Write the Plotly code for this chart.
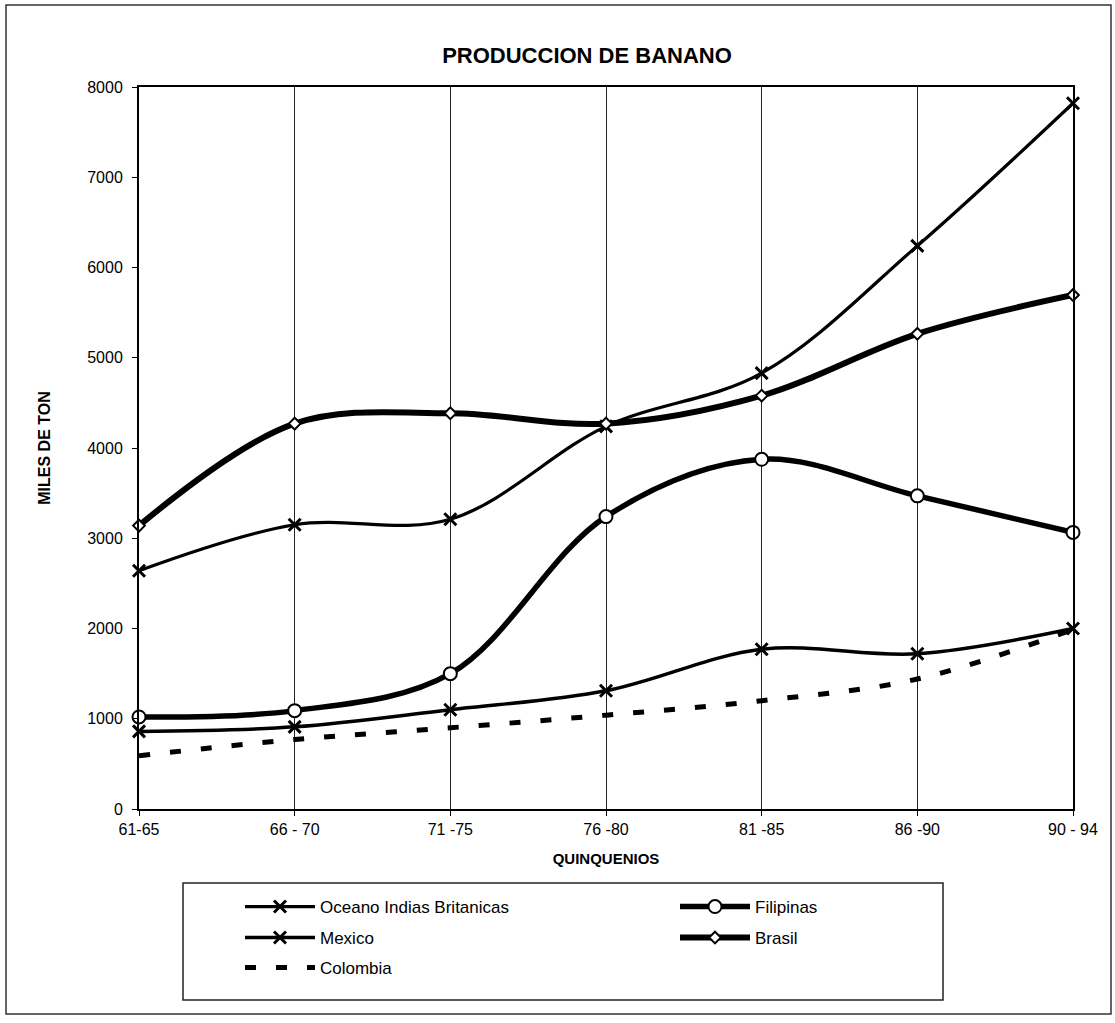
import plotly.graph_objects as go

# ---------------- data ----------------
categories = ["61-65", "66 - 70", "71 -75", "76 -80", "81 -85", "86 -90", "90 - 94"]
oceano = [2640, 3150, 3210, 4240, 4830, 6240, 7820]
filipinas = [1020, 1090, 1500, 3240, 3875, 3470, 3065]
mexico = [860, 910, 1100, 1310, 1770, 1720, 2000]
brasil = [3140, 4270, 4385, 4270, 4580, 5265, 5695]
colombia = [590, 770, 900, 1040, 1200, 1440, 1990]
y_ticks = [0, 1000, 2000, 3000, 4000, 5000, 6000, 7000, 8000]

# ---------------- layout geometry (screen pixels) ----------------
W, H = 1115, 1023
PL, PR, PT, PB = 139, 1073, 87, 809  # plot area box


def fx(p):
    return (p - PL) / (PR - PL)


def fy(p):
    return (PB - p) / (PB - PT)


FONT = "Liberation Sans, Arial, sans-serif"

fig = go.Figure()

fig.add_trace(go.Scatter(
    x=categories, y=oceano, name="Oceano Indias Britanicas", mode="lines+markers",
    line=dict(color="black", width=3.2, shape="spline", smoothing=1),
    marker=dict(symbol="x-thin", size=12, color="black", line=dict(width=3, color="black")),
    cliponaxis=False, legend="legend"))
fig.add_trace(go.Scatter(
    x=categories, y=filipinas, name="Filipinas", mode="lines+markers",
    line=dict(color="black", width=5.5, shape="spline", smoothing=1),
    marker=dict(symbol="circle", size=13, color="white", line=dict(width=2, color="black")),
    cliponaxis=False, legend="legend"))
fig.add_trace(go.Scatter(
    x=categories, y=mexico, name="Mexico", mode="lines+markers",
    line=dict(color="black", width=3.5, shape="spline", smoothing=1),
    marker=dict(symbol="x-thin", size=12, color="black", line=dict(width=3, color="black")),
    cliponaxis=False, legend="legend2"))
fig.add_trace(go.Scatter(
    x=categories, y=brasil, name="Brasil", mode="lines+markers",
    line=dict(color="black", width=6, shape="spline", smoothing=1),
    marker=dict(symbol="diamond", size=9, color="white", line=dict(width=2, color="black")),
    cliponaxis=False, legend="legend2"))
fig.add_trace(go.Scatter(
    x=categories, y=colombia, name="Colombia", mode="lines",
    line=dict(color="black", width=5, dash="11px,20px", shape="spline", smoothing=1),
    cliponaxis=False, legend="legend3"))

leg_common = dict(orientation="h", font=dict(family=FONT, size=17, color="black"),
                  bgcolor="rgba(0,0,0,0)", borderwidth=0, itemwidth=70,
                  entrywidth=350, entrywidthmode="pixels",
                  xanchor="left", yanchor="middle", itemclick=False)

fig.update_layout(
    width=W, height=H,
    margin=dict(l=PL, r=W - PR, t=PT, b=H - PB, autoexpand=False),
    paper_bgcolor="white", plot_bgcolor="white",
    font=dict(family=FONT, size=16, color="black"),
    title=dict(text="<b>PRODUCCION DE BANANO</b>", font=dict(family=FONT, size=22, color="black"),
               x=fx(587), xref="paper", xanchor="center",
               y=1 - 55 / H, yref="container", yanchor="middle"),
    xaxis=dict(type="category", range=[0, len(categories) - 1],
               showline=True, linecolor="black", linewidth=2, mirror=True,
               showgrid=True, gridcolor="#222", gridwidth=1,
               ticks="outside", ticklen=5, tickcolor="black", tickwidth=1,
               tickfont=dict(family=FONT, size=16, color="black"),
               title=dict(text="<b>QUINQUENIOS</b>", font=dict(family=FONT, size=15, color="black"),
                          standoff=16),
               zeroline=False, automargin=False),
    yaxis=dict(range=[0, 8000], tickvals=y_ticks, ticktext=[str(v) for v in y_ticks],
               showline=True, linecolor="black", linewidth=2, mirror=True,
               showgrid=False, zeroline=False,
               ticks="outside", ticklen=5, tickcolor="black", tickwidth=1,
               tickfont=dict(family=FONT, size=16, color="black"),
               ticklabelstandoff=6,
               title=dict(text="<b>MILES DE TON</b>", font=dict(family=FONT, size=16, color="black"),
                          standoff=33),
               automargin=False),
    legend=dict(x=fx(240), y=fy(907), **leg_common),
    legend2=dict(x=fx(240), y=fy(938), **leg_common),
    legend3=dict(x=fx(240), y=fy(968), **leg_common),
    showlegend=True,
)

# outer chart border and legend box
fig.add_shape(type="rect", xref="paper", yref="paper",
              x0=fx(6), x1=fx(1111), y0=fy(1014), y1=fy(5),
              line=dict(color="#333", width=1.5), fillcolor="rgba(0,0,0,0)", layer="below")
fig.add_shape(type="rect", xref="paper", yref="paper",
              x0=fx(183), x1=fx(943), y0=fy(1000), y1=fy(883),
              line=dict(color="#222", width=1.5), fillcolor="rgba(0,0,0,0)", layer="below")

# place the figure at the window origin (remove the default page margin)
fig.write_html("out.html", config={"displayModeBar": False},
               post_script="document.body.style.margin='0';document.body.style.overflow='hidden';")
